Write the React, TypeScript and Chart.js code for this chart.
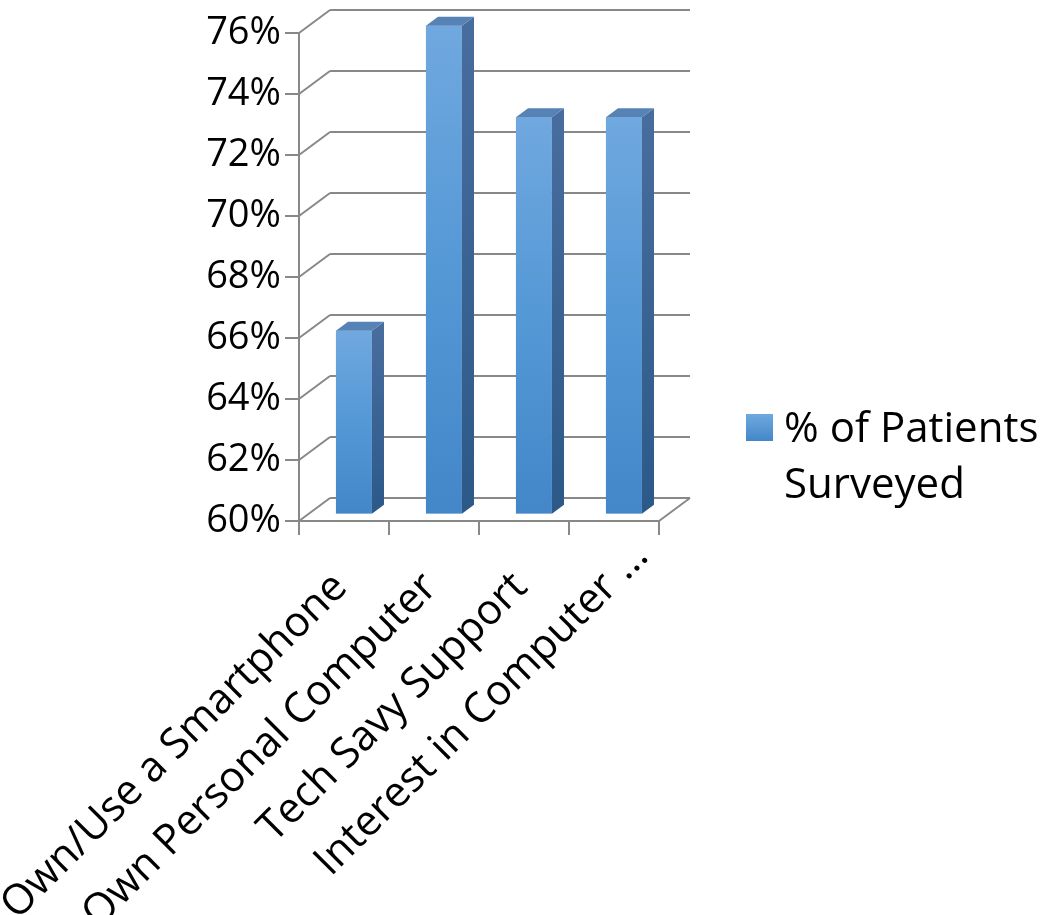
import { useEffect, useRef } from 'react';
import { Chart, registerables } from 'chart.js';

Chart.register(...registerables);

// Survey results
const categories = [
  'Own/Use a Smartphone',
  'Own Personal Computer',
  'Tech Savy Support',
  'Interest in Computer ...',
];
const patientsSurveyed = [66, 76, 73, 73];
const legendLines = ['% of Patients', 'Surveyed'];
const yMin = 60;
const yMax = 76;
const yStep = 2;

const FONT = '"Open Sans", "DejaVu Sans", sans-serif';
const GRID = '#888888';
// offset of the back wall relative to the front plane (3D depth)
const DEPTH_DX = 31;
const DEPTH_DY = -23;
// where the bar boxes sit inside the depth, as fractions of it
const BAR_FRONT = 0.32;
const BAR_DEPTH = 0.39;

function line(ctx: CanvasRenderingContext2D, x1: number, y1: number, x2: number, y2: number) {
  ctx.beginPath();
  ctx.moveTo(x1, y1);
  ctx.lineTo(x2, y2);
  ctx.stroke();
}

function poly(ctx: CanvasRenderingContext2D, pts: number[][]) {
  ctx.beginPath();
  ctx.moveTo(pts[0][0], pts[0][1]);
  for (let i = 1; i < pts.length; i++) ctx.lineTo(pts[i][0], pts[i][1]);
  ctx.closePath();
  ctx.fill();
}

// back wall, side wall, floor, axis ticks, 3D bars, category labels and legend
const walls3dPlugin = {
  id: 'walls3d',
  beforeDatasetsDraw(chart: any) {
    const { ctx, chartArea: a, scales } = chart;
    const y = scales.y;
    ctx.save();
    ctx.strokeStyle = GRID;
    ctx.lineWidth = 2;
    ctx.lineCap = 'butt';
    for (const t of y.ticks) {
      const py = Math.round(y.getPixelForValue(t.value));
      line(ctx, a.left + DEPTH_DX, py + DEPTH_DY, a.right + DEPTH_DX, py + DEPTH_DY);
      line(ctx, a.left, py, a.left + DEPTH_DX, py + DEPTH_DY);
      line(ctx, a.left - 14, py, a.left, py);
    }
    const bottom = Math.round(y.getPixelForValue(yMin));
    line(ctx, a.left, bottom, a.right, bottom);
    line(ctx, a.right, bottom, a.right + DEPTH_DX, bottom + DEPTH_DY);
    line(ctx, a.left, Math.round(y.getPixelForValue(yMax)) - 1, a.left, bottom + 14);
    const catW = (a.right - a.left) / categories.length;
    for (let i = 0; i <= categories.length; i++) {
      const px = Math.round(a.left + i * catW);
      line(ctx, px, bottom, px, bottom + 14);
    }
    ctx.restore();
  },
  afterDatasetsDraw(chart: any) {
    const { ctx, scales } = chart;
    const meta = chart.getDatasetMeta(0);
    const floor = scales.y.getPixelForValue(yMin);
    const fx = DEPTH_DX * BAR_FRONT;
    const fy = DEPTH_DY * BAR_FRONT;
    const bx = DEPTH_DX * BAR_DEPTH;
    const by = DEPTH_DY * BAR_DEPTH;
    ctx.save();
    meta.data.forEach((bar: any) => {
      const p = bar.getProps(['x', 'y', 'base', 'width'], true);
      const l = p.x - p.width / 2 + fx;
      const r = p.x + p.width / 2 + fx;
      const t = p.y + fy;
      const b = Math.min(p.base, floor) + fy;
      // front face
      const gf = ctx.createLinearGradient(0, t, 0, b);
      gf.addColorStop(0, '#70a8df');
      gf.addColorStop(0.5, '#5498d6');
      gf.addColorStop(1, '#4387c9');
      ctx.fillStyle = gf;
      ctx.fillRect(l, t, r - l, b - t);
      // side face
      const gs = ctx.createLinearGradient(0, t, 0, b);
      gs.addColorStop(0, '#476d9e');
      gs.addColorStop(1, '#2c5988');
      ctx.fillStyle = gs;
      poly(ctx, [[r, t], [r + bx, t + by], [r + bx, b + by], [r, b]]);
      // top face
      ctx.fillStyle = '#5682b6';
      poly(ctx, [[l, t], [l + bx, t + by], [r + bx, t + by], [r, t]]);
    });
    ctx.restore();
  },
  afterDraw(chart: any) {
    const { ctx, chartArea: a, scales } = chart;
    const x = scales.x;
    const bottom = scales.y.getPixelForValue(yMin);
    ctx.save();
    ctx.fillStyle = '#000';
    ctx.font = `42px ${FONT}`;
    ctx.textBaseline = 'alphabetic';
    categories.forEach((label, i) => {
      const px = x.getPixelForValue(i) + 5;
      const py = bottom + 68;
      // a trailing ellipsis runs past the tick
      const m = label.match(/^(.*?)(\s*\.\.\.)$/);
      const main = m ? m[1] : label;
      const tail = m ? m[2] : '';
      ctx.save();
      ctx.translate(px, py);
      ctx.rotate(-Math.PI / 4);
      ctx.textAlign = 'right';
      ctx.fillText(main, 0, 0);
      if (tail) {
        ctx.textAlign = 'left';
        ctx.fillText(tail, 0, 0);
      }
      ctx.restore();
    });

    // legend
    const lx = a.right + 87;
    const ly = 414;
    const g = ctx.createLinearGradient(0, ly, 0, ly + 27);
    g.addColorStop(0, '#70a8df');
    g.addColorStop(1, '#4387c9');
    ctx.fillStyle = g;
    ctx.fillRect(lx, ly, 27, 27);
    ctx.fillStyle = '#000';
    ctx.font = `42px ${FONT}`;
    ctx.textAlign = 'left';
    legendLines.forEach((t, i) => {
      ctx.fillText(t, lx + 38, ly + 28 + i * 56);
    });
    ctx.restore();
  },
};

export default function App() {
  const canvasRef = useRef<HTMLCanvasElement | null>(null);

  useEffect(() => {
    if (!canvasRef.current) return;
    const chart = new Chart(canvasRef.current, {
      type: 'bar',
      data: {
        labels: categories,
        datasets: [
          {
            label: legendLines.join(' '),
            data: patientsSurveyed,
            base: yMin,
            backgroundColor: 'rgba(0,0,0,0)',
            borderWidth: 0,
            barPercentage: 0.4,
            categoryPercentage: 1,
          },
        ],
      },
      options: {
        animation: false,
        responsive: false,
        devicePixelRatio: 1,
        layout: { padding: { top: 33, right: 396, bottom: 0, left: 0 } },
        plugins: {
          legend: { display: false },
          tooltip: { enabled: false },
        },
        scales: {
          x: {
            grid: { display: false, drawTicks: false },
            border: { display: false },
            ticks: { display: false },
            afterFit: (s: any) => {
              s.height = 394;
              s.paddingLeft = 0;
              s.paddingRight = 0;
            },
          },
          y: {
            min: yMin,
            max: yMax,
            grid: { display: false, drawTicks: false },
            border: { display: false },
            ticks: {
              stepSize: yStep,
              padding: 18,
              color: '#000',
              font: { family: FONT, size: 38 },
              callback: (v: any) => `${v}%`,
            },
            afterFit: (s: any) => {
              s.width = 299;
              s.paddingTop = 0;
              s.paddingBottom = 0;
            },
          },
        },
      },
      plugins: [walls3dPlugin],
    });
    return () => chart.destroy();
  }, []);

  return (
    <div style={{ position: 'absolute', left: 0, top: 0, width: 1055, height: 915, background: '#fff' }}>
      <canvas ref={canvasRef} width={1055} height={915} />
    </div>
  );
}
